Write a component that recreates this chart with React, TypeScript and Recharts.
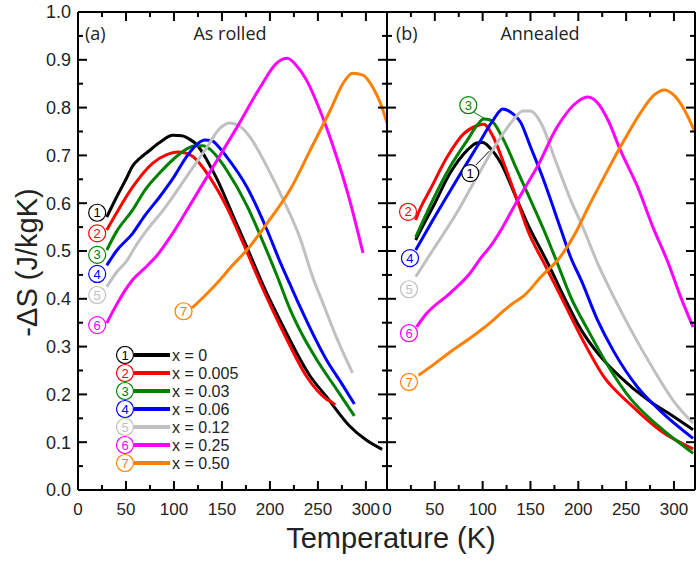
import React from "react";
import { LineChart, Line, XAxis, YAxis, ReferenceDot, ReferenceLine } from "recharts";

type Pt = [number, number];

// (a) as rolled  -  [T (K), -dS (J/kgK)]
const rolledX0: Pt[] = [[30,0.571],[40,0.612],[50,0.65],[57,0.678],[65,0.695],[72,0.706],[85,0.727],[99,0.742],[108,0.741],[117,0.733],[124,0.722],[135,0.688],[145,0.65],[162,0.572],[176,0.508],[193,0.428],[214,0.341],[242,0.238],[259,0.195],[283,0.134],[300,0.105],[317,0.085]];
const rolledX005: Pt[] = [[30,0.544],[40,0.579],[57,0.634],[78,0.684],[92,0.701],[104,0.707],[112,0.705],[120,0.697],[137,0.655],[155,0.592],[172,0.517],[190,0.433],[214,0.33],[238,0.238],[259,0.19],[264,0.184],[268,0.178]];
const rolledX03: Pt[] = [[30,0.502],[40,0.54],[57,0.586],[70,0.628],[85,0.663],[100,0.693],[113,0.713],[122,0.72],[130,0.72],[138,0.712],[145,0.697],[155,0.669],[176,0.595],[193,0.518],[208,0.445],[221,0.378],[235,0.32],[249,0.272],[270,0.209],[288,0.155]];
const rolledX06: Pt[] = [[30,0.47],[40,0.5],[57,0.537],[70,0.575],[85,0.613],[100,0.655],[113,0.697],[125,0.725],[132,0.732],[140,0.73],[147,0.717],[155,0.697],[176,0.634],[197,0.544],[210,0.48],[221,0.43],[231,0.385],[259,0.272],[275,0.222],[288,0.18]];
const rolledX12: Pt[] = [[30,0.425],[40,0.455],[51,0.48],[60,0.51],[72,0.544],[89,0.586],[113,0.655],[134,0.716],[148,0.757],[158,0.768],[168,0.762],[179,0.739],[197,0.676],[214,0.607],[231,0.529],[245,0.443],[255,0.392],[270,0.316],[286,0.245]];
const rolledX25: Pt[] = [[30,0.349],[38,0.38],[57,0.44],[70,0.465],[82,0.49],[99,0.538],[120,0.607],[145,0.69],[166,0.76],[190,0.843],[207,0.893],[218,0.903],[228,0.887],[238,0.858],[252,0.795],[266,0.718],[283,0.607],[297,0.496]];
const rolledX50: Pt[] = [[119,0.381],[134,0.41],[145,0.433],[161,0.47],[176,0.502],[197,0.558],[221,0.628],[242,0.711],[263,0.795],[276,0.85],[286,0.872],[297,0.868],[307,0.843],[315,0.81],[322,0.768]];

// (b) annealed
const annealedX0: Pt[] = [[30,0.523],[40,0.562],[48,0.592],[66,0.663],[84,0.711],[94,0.726],[100,0.727],[108,0.715],[119,0.684],[136,0.607],[150,0.544],[161,0.502],[168,0.475],[185,0.404],[203,0.335],[220,0.287],[244,0.236],[273,0.188],[294,0.161],[320,0.126]];
const annealedX005: Pt[] = [[30,0.565],[35,0.59],[45,0.628],[63,0.697],[80,0.745],[94,0.762],[101,0.765],[111,0.739],[122,0.684],[136,0.607],[147,0.544],[164,0.475],[182,0.404],[203,0.32],[227,0.236],[255,0.178],[286,0.124],[320,0.086]];
const annealedX03: Pt[] = [[30,0.529],[48,0.607],[66,0.676],[84,0.732],[95,0.765],[101,0.776],[108,0.774],[122,0.732],[136,0.669],[150,0.607],[164,0.544],[178,0.475],[192,0.404],[210,0.335],[231,0.26],[255,0.19],[283,0.135],[320,0.077]];
const annealedX06: Pt[] = [[30,0.502],[48,0.565],[73,0.649],[94,0.718],[111,0.774],[121,0.797],[129,0.791],[140,0.768],[150,0.718],[161,0.663],[182,0.544],[192,0.487],[203,0.439],[220,0.356],[237,0.29],[262,0.215],[286,0.165],[320,0.108]];
const annealedX12: Pt[] = [[30,0.446],[48,0.502],[73,0.58],[94,0.655],[115,0.726],[132,0.774],[142,0.793],[150,0.793],[161,0.768],[176,0.69],[192,0.607],[206,0.544],[220,0.475],[237,0.404],[255,0.335],[279,0.251],[300,0.185],[320,0.14]];
const annealedX25: Pt[] = [[31,0.341],[40,0.366],[66,0.412],[87,0.454],[98,0.485],[110,0.515],[121,0.55],[132,0.59],[145,0.635],[157,0.676],[178,0.76],[199,0.812],[210,0.822],[220,0.81],[231,0.774],[244,0.711],[262,0.634],[278,0.55],[294,0.475],[307,0.404],[320,0.341]];
const annealedX50: Pt[] = [[33,0.24],[45,0.257],[69,0.293],[94,0.328],[108,0.35],[119,0.37],[132,0.391],[143,0.406],[161,0.446],[182,0.49],[199,0.545],[210,0.59],[227,0.655],[248,0.732],[265,0.789],[279,0.826],[290,0.837],[300,0.826],[311,0.795],[321,0.753]];

const seriesNames = ["x = 0", "x = 0.005", "x = 0.03", "x = 0.06", "x = 0.12", "x = 0.25", "x = 0.50"];
const colors = ["#000000", "#ff0000", "#008000", "#0000ff", "#c0c0c0", "#ff00ff", "#ff8000"];

// circled-number positions
const rolledMarks: Pt[] = [[20,0.58],[20,0.537],[20,0.492],[20,0.452],[20,0.408],[20,0.345],[110,0.374]];
const annealedMarks: Pt[] = [[87,0.663],[22,0.582],[85,0.805],[24,0.485],[23,0.42],[23,0.328],[23,0.226]];
const leaderOne: Pt[] = [[93,0.68],[107,0.709]];
const leaderThree: Pt[] = [[91,0.79],[103,0.776]];

const xTicks = [0,25,50,75,100,125,150,175,200,225,250,275,300];
const yTicks = [0,0.05,0.1,0.15,0.2,0.25,0.3,0.35,0.4,0.45,0.5,0.55,0.6,0.65,0.7,0.75,0.8,0.85,0.9,0.95,1];
const xDomain: [number, number] = [0, 322];

const rolledSeries = [rolledX0, rolledX005, rolledX03, rolledX06, rolledX12, rolledX25, rolledX50];
const annealedSeries = [annealedX0, annealedX005, annealedX03, annealedX06, annealedX12, annealedX25, annealedX50];

const rows = (pts: Pt[]) => pts.map(([T, v]) => ({ T, v }));

const FONT = "'Liberation Sans', Arial, sans-serif";
const isMajorX = (t: number) => t % 50 === 0;
const isMajorY = (v: number) => Math.round(v * 20) % 2 === 0;

// plot boxes, matching the chart margins below
const PLOT_TOP = 12;
const PLOT_BOTTOM = 490;
const panelBox = [{ x0: 78, x1: 387 }, { x0: 387, x1: 695 }];

const makeBottomLabel = (skipZero: boolean) => (props: any) => {
  const { x, y, payload } = props;
  if (!isMajorX(payload.value) || (skipZero && payload.value === 0)) return <g />;
  return <text x={x} y={y + 25} textAnchor="middle" fontSize={17} fill="#222" fontFamily={FONT}>{payload.value}</text>;
};
const LeftBottomLabel = makeBottomLabel(false);
const RightBottomLabel = makeBottomLabel(true);

const LeftLabel = (props: any) => {
  const { x, y, payload } = props;
  if (!isMajorY(payload.value)) return <g />;
  return <text x={x - 7} y={y} dy="0.36em" textAnchor="end" fontSize={18} fill="#222" fontFamily={FONT}>{payload.value.toFixed(1)}</text>;
};

function Panel({ series, marks, width, margin, labelLeft, leaders }: any) {
  const frame = { stroke: "#000", strokeWidth: 2 };
  return (
    <LineChart width={width} height={561} margin={margin}>
      <XAxis xAxisId="b" type="number" dataKey="T" domain={xDomain} allowDataOverflow ticks={xTicks} interval={0}
        tickSize={0} tickMargin={0} tickLine={false} axisLine={frame} height={30}
        tick={labelLeft ? LeftBottomLabel : RightBottomLabel} />
      <YAxis yAxisId="l" type="number" domain={[0, 1]} allowDataOverflow ticks={yTicks} interval={0}
        tickSize={0} tickMargin={0} tickLine={false} axisLine={frame} width={labelLeft ? 78 : 0} hide={!labelLeft} tick={LeftLabel} />
      {series.map((pts: Pt[], i: number) => (
        <Line key={"s" + i} xAxisId="b" yAxisId="l" data={rows(pts)} dataKey="v" type="monotone"
          stroke={colors[i]} strokeWidth={3} dot={false} isAnimationActive={false} />
      ))}
      <ReferenceLine xAxisId="b" yAxisId="l" y={1} stroke="#000" strokeWidth={2} />
      <ReferenceLine xAxisId="b" yAxisId="l" x={xDomain[1]} stroke="#000" strokeWidth={2} />
      {!labelLeft && <ReferenceLine xAxisId="b" yAxisId="l" x={xDomain[0]} stroke="#000" strokeWidth={2} />}
      {leaders.map(([seg, c]: any, i: number) => (
        <ReferenceLine key={"l" + i} xAxisId="b" yAxisId="l" segment={[{ x: seg[0][0], y: seg[0][1] }, { x: seg[1][0], y: seg[1][1] }]}
          stroke={c} strokeWidth={1} />
      ))}
      {marks.map(([T, v]: Pt, i: number) => (
        <ReferenceDot key={"m" + i} xAxisId="b" yAxisId="l" x={T} y={v} r={8.5} fill="#fff" stroke={colors[i]} strokeWidth={1.2}
          label={{ value: String(i + 1), position: "center", fill: colors[i], fontSize: 13, fontFamily: FONT }} />
      ))}
    </LineChart>
  );
}

// inward tick marks on all four edges of both panels
function TickMarks() {
  const out: React.ReactNode[] = [];
  panelBox.forEach(({ x0, x1 }, p) => {
    const sx = (t: number) => x0 + ((t - xDomain[0]) / (xDomain[1] - xDomain[0])) * (x1 - x0);
    const sy = (v: number) => PLOT_BOTTOM - v * (PLOT_BOTTOM - PLOT_TOP);
    xTicks.forEach((t) => {
      const len = isMajorX(t) ? 9 : 5;
      out.push(<line key={`b${p}-${t}`} x1={sx(t)} x2={sx(t)} y1={PLOT_BOTTOM} y2={PLOT_BOTTOM - len} />);
      out.push(<line key={`t${p}-${t}`} x1={sx(t)} x2={sx(t)} y1={PLOT_TOP} y2={PLOT_TOP + len} />);
    });
    yTicks.forEach((v) => {
      const len = isMajorY(v) ? 9 : 5;
      out.push(<line key={`l${p}-${v}`} x1={x0} x2={x0 + len} y1={sy(v)} y2={sy(v)} />);
      out.push(<line key={`r${p}-${v}`} x1={x1} x2={x1 - len} y1={sy(v)} y2={sy(v)} />);
    });
  });
  return <g stroke="#000" strokeWidth={2}>{out}</g>;
}

const LegendBox = () => (
  <svg width={125} height={130}>
    {seriesNames.map((n, i) => {
      const cy = 9 + i * 18;
      return (
        <g key={n}>
          <circle cx={10} cy={cy} r={8.5} fill="#fff" stroke={colors[i]} strokeWidth={1.2} />
          <text x={10} y={cy} dy="0.36em" textAnchor="middle" fontSize={13} fill={colors[i]} fontFamily={FONT}>{i + 1}</text>
          <line x1={19} x2={55} y1={cy} y2={cy} stroke={colors[i]} strokeWidth={4} />
          <text x={57} y={cy} dy="0.36em" fontSize={16} fill="#222" fontFamily={FONT}>{n}</text>
        </g>
      );
    })}
  </svg>
);

const txt = (left: number, top: number, size: number, family: string, extra: any = {}) => ({
  position: "absolute" as const, left, top, fontSize: size, fontFamily: family, color: "#222", lineHeight: 1, whiteSpace: "nowrap" as const, ...extra,
});

export default function App() {
  const OPEN = "'Open Sans', sans-serif";
  return (
    <div style={{ position: "absolute", left: 0, top: 0, width: 700, height: 561, background: "#fff" }}>
      <div style={{ position: "absolute", left: 0, top: 0 }}>
        <Panel series={rolledSeries} marks={rolledMarks} width={392} labelLeft leaders={[]}
          margin={{ top: 12, right: 5, bottom: 41, left: 0 }} />
      </div>
      <div style={{ position: "absolute", left: 380, top: 0 }}>
        <Panel series={annealedSeries} marks={annealedMarks} width={320} labelLeft={false}
          leaders={[[leaderOne, colors[0]], [leaderThree, colors[2]]]}
          margin={{ top: 12, right: 5, bottom: 41, left: 7 }} />
      </div>
      <svg width={700} height={561} style={{ position: "absolute", left: 0, top: 0, pointerEvents: "none" }}>
        <TickMarks />
        <text x={panelBox[1].x0} y={PLOT_BOTTOM + 25} textAnchor="middle" fontSize={17} fill="#222" fontFamily={FONT}>0</text>
      </svg>
      <div style={{ position: "absolute", left: 115, top: 346 }}>
        <LegendBox />
      </div>
      <div style={txt(85, 24, 18, OPEN)}>(a)</div>
      <div style={txt(180, 24, 18, OPEN, { width: 100, textAlign: "center" })}>As rolled</div>
      <div style={txt(396, 24, 18, OPEN)}>(b)</div>
      <div style={txt(490, 24, 18, OPEN, { width: 100, textAlign: "center" })}>Annealed</div>
      <div style={txt(241, 524, 29, FONT, { width: 300, textAlign: "center" })}>Temperature (K)</div>
      <div style={txt(-123, 248, 29, FONT, { width: 300, textAlign: "center", transform: "rotate(-90deg)" })}>-ΔS (J/kgK)</div>
    </div>
  );
}
